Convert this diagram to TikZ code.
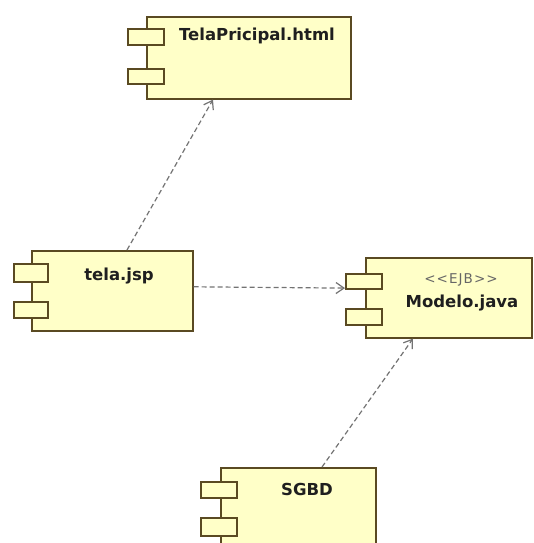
\documentclass[tikz,border=0pt]{standalone}
\usepackage{fontspec}
\setmainfont{DejaVu Sans}
\usetikzlibrary{arrows.meta,calc}
\definecolor{compfill}{RGB}{255,255,200}
\definecolor{compline}{RGB}{90,74,34}
\definecolor{depline}{RGB}{115,115,115}
\begin{document}
\begin{tikzpicture}[x=1pt,y=-1pt,
  comp/.style={draw=compline, fill=compfill, line width=1.6pt, anchor=north west, inner sep=0pt},
  port/.style={draw=compline, fill=compfill, line width=1.6pt, anchor=north west, inner sep=0pt, minimum width=36pt},
  dep/.style={draw=depline, line width=1.2pt, dash pattern=on 5pt off 3pt,
    -{Straight Barb[length=8pt,width=11pt,line width=1.2pt]}},
  lbl/.style={font=\bfseries\fontsize{16.5}{19}\selectfont, text=black!88, inner sep=0pt, anchor=base},
  stereo/.style={font=\fontsize{13.5}{15}\selectfont\addfontfeature{LetterSpace=8}, text=black!60, inner sep=0pt, anchor=base}]
\useasboundingbox (0,0) rectangle (533,543);
\clip (0,0) rectangle (533,543);

% TelaPricipal.html
\node[comp, minimum width=204pt, minimum height=82pt] (tp) at (146,16) {};
\node[port, minimum height=16pt] (tpa) at (127,28) {};
\node[port, minimum height=15pt] (tpb) at (127,68) {};
\node[lbl] (tpl) at (257,41) {TelaPricipal.html};

% tela.jsp
\node[comp, minimum width=161pt, minimum height=80pt] (jsp) at (31,250) {};
\node[port, minimum width=34pt, minimum height=18pt] (jspa) at (13,263) {};
\node[port, minimum width=34pt, minimum height=16pt] (jspb) at (13,301) {};
\node[lbl] (jspl) at (119,280) {tela.jsp};

% Modelo.java
\node[comp, minimum width=166pt, minimum height=80pt] (mod) at (365,257) {};
\node[port, minimum height=15pt] (moda) at (345,273) {};
\node[port, minimum height=16pt] (modb) at (345,308) {};
\node[stereo] (modst) at (461,283) {{<}{<}EJB{>}{>}};
\node[lbl] (modl) at (462,307) {Modelo.java};

% SGBD
\node[comp, minimum width=155pt, minimum height=90pt] (db) at (220,467) {};
\node[port, minimum height=16pt] (dba) at (200,481) {};
\node[port, minimum height=18pt] (dbb) at (200,517) {};
\node[lbl] (dbl) at (307,495) {SGBD};

% dependencies
\draw[dep] ([xshift=96pt]jsp.north west) -- ([xshift=67pt]tp.south west);
\draw[dep] ([yshift=4pt]jsp.east) -- ([yshift=1.5pt]moda.south west);
\draw[dep] ([xshift=102pt]db.north west) -- ([xshift=48pt]mod.south west);
\end{tikzpicture}
\end{document}
